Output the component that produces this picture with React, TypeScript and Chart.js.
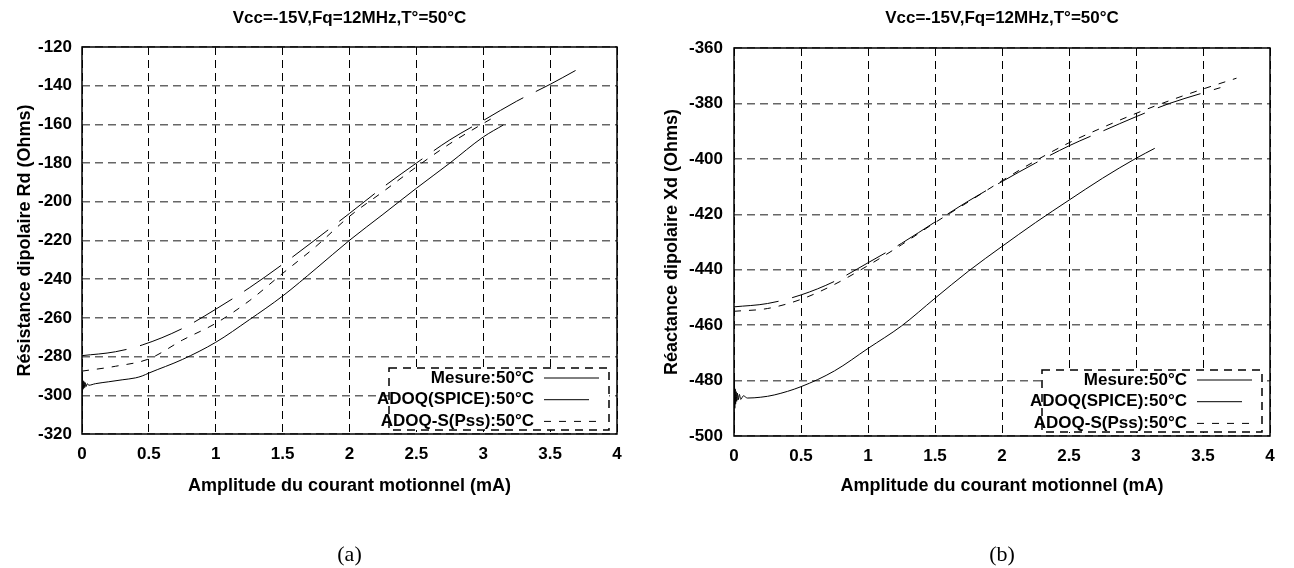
import React, { useEffect, useRef } from "react";
import { Chart, registerables } from "chart.js";

Chart.register(...registerables);

// ---------- shared texts / ticks ----------
const SERIES_LABELS = ["Mesure:50°C", "ADOQ(SPICE):50°C", "ADOQ-S(Pss):50°C"];
const CHART_TITLE = "Vcc=-15V,Fq=12MHz,T°=50°C";
const X_TITLE = "Amplitude du courant motionnel (mA)";
const X_TICKS = [0, 0.5, 1, 1.5, 2, 2.5, 3, 3.5, 4];

// ---------- panel (a) : resistance ----------
const A_Y_TITLE = "Résistance dipolaire Rd (Ohms)";
const A_Y_TICKS = [-320, -300, -280, -260, -240, -220, -200, -180, -160, -140, -120];
const A_MESURE_X = [0, 0.003, 0.006, 0.009, 0.012, 0.016, 0.02, 0.025, 0.03, 0.04, 0.05, 0.1, 0.2, 0.3, 0.4, 0.45, 0.5, 0.75, 1.0, 1.25, 1.5, 1.75, 2.0, 2.25, 2.5, 2.75, 3.0, 3.15];
const A_MESURE_Y = [-318, -292, -297, -292.5, -296.5, -293, -296, -293.5, -295.5, -294, -294.8, -294, -293, -292, -291, -290, -288.5, -281.5, -272.6, -261, -248.7, -234.5, -219.9, -206.5, -193, -180, -166.5, -160.3];
const A_SPICE_X = [0, 0.25, 0.45, 0.75, 1.0, 1.25, 1.5, 1.75, 2.0, 2.25, 2.5, 2.75, 3.0, 3.25, 3.5, 3.72];
const A_SPICE_Y = [-279.5, -277.5, -274, -265.5, -255.5, -244.5, -232.3, -219.3, -206, -192.5, -180, -168, -158, -148, -139.3, -131];
const A_PSS_X = [0, 0.25, 0.5, 0.75, 1.0, 1.25, 1.5, 1.75, 2.0, 2.25, 2.5, 2.75, 3.0, 3.1];
const A_PSS_Y = [-287.5, -285, -281.2, -271.5, -262.8, -251.2, -237, -223, -207.5, -194.8, -182, -170, -159.5, -155.5];

// ---------- panel (b) : reactance ----------
const B_Y_TITLE = "Réactance dipolaire Xd (Ohms)";
const B_Y_TICKS = [-500, -480, -460, -440, -420, -400, -380, -360];
const B_MESURE_X = [0, 0.003, 0.006, 0.009, 0.012, 0.016, 0.02, 0.025, 0.03, 0.04, 0.05, 0.07, 0.1, 0.2, 0.3, 0.5, 0.75, 1.0, 1.25, 1.5, 1.75, 2.0, 2.25, 2.5, 2.75, 3.0, 3.14];
const B_MESURE_Y = [-499, -479.5, -490, -483, -488.5, -484, -487.5, -484.5, -487, -485, -486.8, -485.5, -486.3, -486, -485.2, -482.2, -476.5, -468.4, -460.3, -450.3, -440.5, -431.6, -423, -414.9, -407, -399.8, -396.2];
const B_SPICE_X = [0, 0.25, 0.5, 0.75, 1.0, 1.25, 1.5, 1.75, 2.0, 2.25, 2.5, 2.75, 3.0, 3.25, 3.5, 3.63];
const B_SPICE_Y = [-453.4, -452.2, -449.1, -444.2, -437.5, -430.5, -422.8, -415.2, -408.2, -401.5, -395.3, -390, -384.8, -380, -376.2, -374.3];
const B_PSS_X = [0, 0.25, 0.5, 0.75, 1.0, 1.25, 1.5, 1.75, 2.0, 2.25, 2.5, 2.75, 3.0, 3.25, 3.5, 3.75];
const B_PSS_Y = [-455, -454, -450.7, -445.3, -438.5, -431, -423, -415.5, -407.9, -400.7, -394.2, -388.7, -383.6, -379, -374.8, -370.9];

const SANS = '"Liberation Sans", Arial, sans-serif';
const SERIF = '"Liberation Serif", "Times New Roman", serif';
const DASHES = [[], [45, 14], [7, 8]];

const zip = (xs: number[], ys: number[]) => xs.map((x, i) => ({ x, y: ys[i] }));

type Layout = {
  left: number;
  yAxisWidth: number;
  padRight: number;
  titlePadBottom: number;
  xAxisHeight: number;
  subPadTop: number;
  yTickPad: number;
  yTitlePad: number;
};

type Panel = {
  yTitle: string;
  yTicks: number[];
  series: { x: number[]; y: number[] }[];
  sub: string;
  layout: Layout;
};

const PANELS: Panel[] = [
  {
    yTitle: A_Y_TITLE,
    yTicks: A_Y_TICKS,
    series: [
      { x: A_MESURE_X, y: A_MESURE_Y },
      { x: A_SPICE_X, y: A_SPICE_Y },
      { x: A_PSS_X, y: A_PSS_Y },
    ],
    sub: "(a)",
    layout: { left: 0, yAxisWidth: 82, padRight: 30, titlePadBottom: 18.8, xAxisHeight: 70, subPadTop: 37.6, yTickPad: 10, yTitlePad: 14.2 },
  },
  {
    yTitle: B_Y_TITLE,
    yTicks: B_Y_TICKS,
    series: [
      { x: B_MESURE_X, y: B_MESURE_Y },
      { x: B_SPICE_X, y: B_SPICE_Y },
      { x: B_PSS_X, y: B_PSS_Y },
    ],
    sub: "(b)",
    layout: { left: 647, yAxisWidth: 87, padRight: 24, titlePadBottom: 19.8, xAxisHeight: 68, subPadTop: 37.6, yTickPad: 11, yTitlePad: 13.9 },
  },
];

const frameKeyPlugin = {
  id: "gnuFrameKey",
  afterDatasetsDraw(chart: any) {
    const { ctx, chartArea: a } = chart;
    ctx.save();
    // plot frame
    ctx.setLineDash([]);
    ctx.lineWidth = 1.5;
    ctx.strokeStyle = "#000";
    ctx.strokeRect(a.left, a.top, a.right - a.left, a.bottom - a.top);
    // key box
    const boxW = 220;
    const boxH = 62;
    const bx2 = a.right - 8;
    const by2 = a.bottom - 4;
    const bx1 = bx2 - boxW;
    const by1 = by2 - boxH;
    ctx.fillStyle = "#fff";
    ctx.fillRect(bx1, by1, boxW, boxH);
    ctx.setLineDash([8, 6]);
    ctx.lineWidth = 1.5;
    ctx.strokeRect(bx1, by1, boxW, boxH);
    ctx.font = `bold 17px ${SANS}`;
    ctx.textAlign = "right";
    ctx.textBaseline = "middle";
    ctx.fillStyle = "#000";
    chart.data.datasets.forEach((ds: any, i: number) => {
      const y = by1 + 10 + i * 21.7;
      ctx.fillText(ds.label, a.right - 83, y);
      ctx.setLineDash(ds.borderDash || []);
      ctx.lineWidth = 1;
      ctx.beginPath();
      ctx.moveTo(a.right - 73, y);
      ctx.lineTo(a.right - 18, y);
      ctx.stroke();
    });
    ctx.restore();
  },
};

function PanelChart({ panel }: { panel: Panel }) {
  const ref = useRef<HTMLCanvasElement | null>(null);
  useEffect(() => {
    if (!ref.current) return;
    const L = panel.layout;
    const tickFont = { family: SANS, size: 17, weight: "bold" as const, lineHeight: 1.2 };
    const axisTitleFont = { family: SANS, size: 18, weight: "bold" as const, lineHeight: 1.2 };
    const chart = new Chart(ref.current, {
      type: "line",
      data: {
        datasets: panel.series.map((s, i) => ({
          label: SERIES_LABELS[i],
          data: zip(s.x, s.y),
          borderColor: "#000",
          borderWidth: 1,
          borderDash: DASHES[i],
          pointRadius: 0,
          fill: false,
          cubicInterpolationMode: "monotone",
        })),
      },
      options: {
        responsive: false,
        maintainAspectRatio: false,
        animation: false,
        layout: { padding: { left: 0, right: L.padRight, top: 0, bottom: 0 } },
        plugins: {
          legend: { display: false },
          tooltip: { enabled: false },
          title: {
            display: true,
            text: CHART_TITLE,
            color: "#000",
            fullSize: false,
            font: { family: SANS, size: 17, weight: "bold", lineHeight: 1.2 },
            padding: { top: 7.8, bottom: L.titlePadBottom },
          },
          subtitle: {
            display: true,
            position: "bottom",
            text: panel.sub,
            color: "#000",
            fullSize: false,
            font: { family: SERIF, size: 22, weight: "normal", lineHeight: 1.2 },
            padding: { top: L.subPadTop, bottom: 0 },
          },
        },
        scales: {
          x: {
            type: "linear",
            min: X_TICKS[0],
            max: X_TICKS[X_TICKS.length - 1],
            afterBuildTicks: (s: any) => {
              s.ticks = X_TICKS.map((v) => ({ value: v }));
            },
            afterFit: (s: any) => {
              s.height = L.xAxisHeight;
            },
            ticks: { color: "#000", font: tickFont, padding: 9.8, maxRotation: 0, autoSkip: false, callback: (v: any) => String(v) },
            grid: { color: "#000", lineWidth: 1, drawTicks: false },
            border: { display: false, dash: [8, 5] },
            title: { display: true, text: X_TITLE, color: "#000", font: axisTitleFont, padding: { top: 0, bottom: 7.2 } },
          },
          y: {
            type: "linear",
            min: panel.yTicks[0],
            max: panel.yTicks[panel.yTicks.length - 1],
            afterBuildTicks: (s: any) => {
              s.ticks = panel.yTicks.map((v) => ({ value: v }));
            },
            afterFit: (s: any) => {
              s.width = L.yAxisWidth;
            },
            ticks: { color: "#000", font: tickFont, padding: L.yTickPad, autoSkip: false, callback: (v: any) => String(v) },
            grid: { color: "#666", lineWidth: 1.5, drawTicks: false },
            border: { display: false, dash: [8, 5] },
            title: { display: true, text: panel.yTitle, color: "#000", font: axisTitleFont, padding: { top: L.yTitlePad, bottom: 0 } },
          },
        },
      },
      plugins: [frameKeyPlugin],
    } as any);
    return () => chart.destroy();
  }, [panel]);
  return (
    <canvas
      ref={ref}
      width={647}
      height={568}
      style={{ position: "absolute", left: panel.layout.left, top: 0, width: 647, height: 568, display: "block" }}
    />
  );
}

export default function App() {
  return (
    <div style={{ position: "absolute", left: 0, top: 0, width: 1294, height: 568, background: "#fff" }}>
      {PANELS.map((p, i) => (
        <PanelChart key={i} panel={p} />
      ))}
    </div>
  );
}
